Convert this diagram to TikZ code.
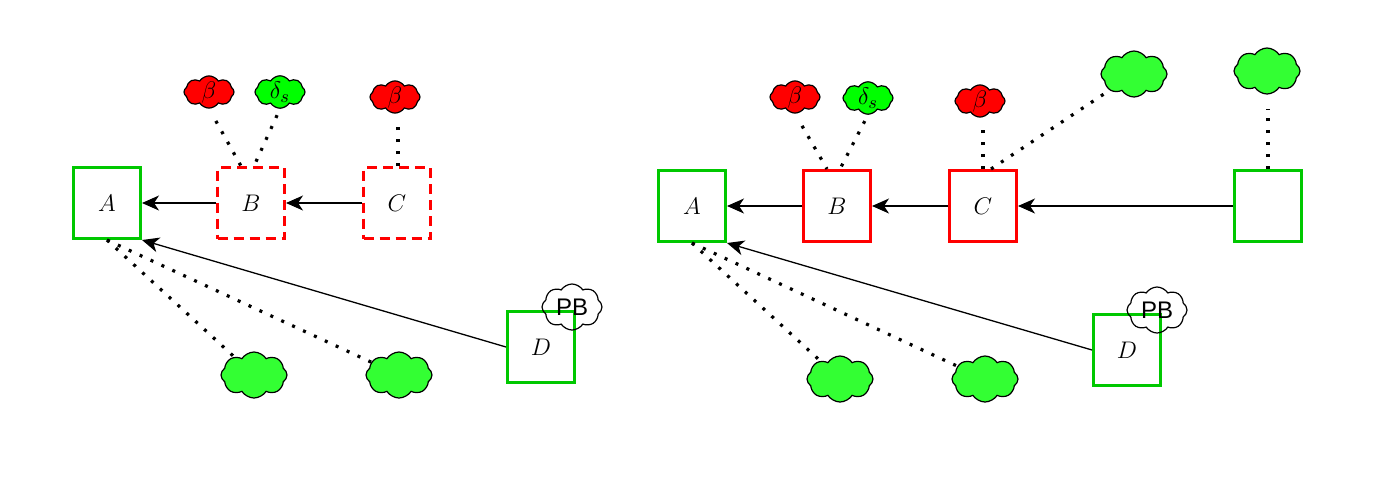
\documentclass[tikz,border=0pt]{standalone}
\usepackage{fontspec}
\newfontfamily\pbfont{Liberation Sans}
\usetikzlibrary{shapes.symbols,arrows.meta}
\definecolor{boxgreen}{RGB}{0,200,0}
\definecolor{cloudgreen}{RGB}{51,255,51}
\definecolor{deltagreen}{RGB}{0,255,0}
\begin{document}
\begin{tikzpicture}[x=0.5pt,y=-0.5pt,
  box/.style={draw, line width=1.5pt, minimum width=33.5pt, minimum height=35.5pt, inner sep=0pt, font=\fontsize{13}{15}\selectfont},
  gbox/.style={box, draw=boxgreen},
  rbox/.style={box, draw=red},
  rdbox/.style={rbox, dash pattern=on 5pt off 3pt},
  cl/.style={cloud, cloud puffs=8, cloud puff arc=115, cloud ignores aspect, draw, line width=0.6pt, inner sep=0pt, font=\fontsize{13}{15}\selectfont},
  smallcl/.style={cl, minimum width=25pt, minimum height=14.5pt},
  bigcl/.style={cl, minimum width=33pt, minimum height=23pt, fill=cloudgreen},
  redcl/.style={smallcl, fill=red},
  dcl/.style={smallcl, fill=deltagreen},
  pbcl/.style={cl, minimum width=30pt, minimum height=23pt, font=\pbfont\large},
  arr/.style={-{Stealth[length=8.5pt,width=7.5pt,inset=2.5pt]}, line width=0.65pt},
  dotl/.style={line width=1.6pt, dash pattern=on 1.5pt off 4.5pt},
]
\useasboundingbox (0,0) rectangle (1380,494);

% ---------- left panel ----------
\node[gbox]  (A)  at (107,203) {$A$};
\node[rdbox] (B)  at (251,203) {$B$};
\node[rdbox] (C)  at (397,203) {$C$};
\node[gbox]  (D)  at (541,347) {$D$};

\node[redcl] (b1) at (209,92) {$\beta$};
\node[dcl]   (d1) at (280,92) {$\delta_s$};
\node[redcl] (b2) at (395,97) {$\beta$};
\node[bigcl] (g1) at (254,375) {};
\node[bigcl] (g2) at (399,375) {};
\node[pbcl]  (pb) at (572,307) {PB};

\draw[arr] (B.west) -- (A.east);
\draw[arr] (C.west) -- (B.east);
\draw[arr] (D.west) -- (A.south east);

\draw[dotl, shorten <=7pt] (b1.south) -- ([xshift=-5pt]B.north);
\draw[dotl, shorten <=3.5pt] (d1.south) -- ([xshift=1.5pt]B.north);
\draw[dotl, shorten >=5pt] ([xshift=0.5pt]C.north) -- ([xshift=0.5pt]C.north |- b2.south);
\draw[dotl] (A.south) -- (g1);
\draw[dotl] (A.south) -- (g2);

% ---------- right panel ----------
\node[gbox] (A2) at (692,206) {$A$};
\node[rbox] (B2) at (837,206) {$B$};
\node[rbox] (C2) at (983,206) {$C$};
\node[gbox] (E2) at (1268,206) {};
\node[gbox] (D2) at (1127,350) {$D$};

\node[redcl] (b12) at (795,97) {$\beta$};
\node[dcl]   (d12) at (868,98) {$\delta_s$};
\node[redcl] (b22) at (980,101) {$\beta$};
\node[bigcl] (t1)  at (1134,74) {};
\node[bigcl] (t2)  at (1267,71) {};
\node[bigcl] (g12) at (840,379) {};
\node[bigcl] (g22) at (985,379) {};
\node[pbcl]  (pb2) at (1157,310) {PB};

\draw[arr] (B2.west) -- (A2.east);
\draw[arr] (C2.west) -- (B2.east);
\draw[arr] (E2.west) -- (C2.east);
\draw[arr] (D2.west) -- (A2.south east);

\draw[dotl, shorten <=7pt] (b12.south) -- ([xshift=-5pt]B2.north);
\draw[dotl, shorten <=3.5pt] (d12.south) -- ([xshift=1.5pt]B2.north);
\draw[dotl, shorten >=5pt] (C2.north) -- (C2.north |- b22.south);
\draw[dotl] ([xshift=4pt]C2.north) -- (t1);
\draw[dotl, shorten >=7pt] (E2.north) -- (E2.north |- t2.south);
\draw[dotl] (A2.south) -- (g12);
\draw[dotl] (A2.south) -- (g22);
\end{tikzpicture}
\end{document}
